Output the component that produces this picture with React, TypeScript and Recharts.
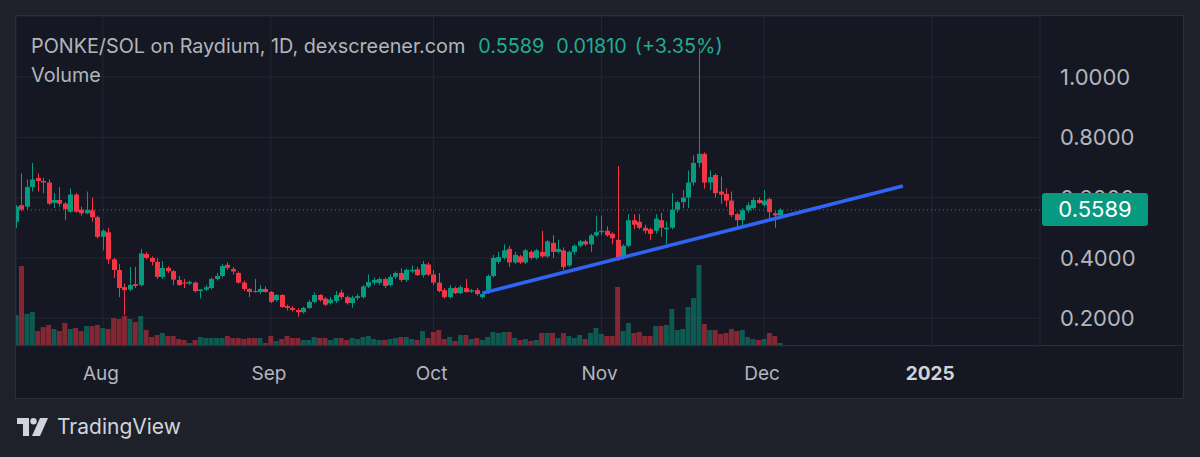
import React from "react";
import { Bar, CartesianGrid, Cell, ComposedChart, ReferenceLine, XAxis, YAxis } from "recharts";

// PONKE/SOL daily candles, 16 Jul 2024 (index 0) .. 5 Dec 2024
const opens = [
  0.52, 0.575, 0.57, 0.635, 0.665, 0.655, 0.65, 0.583, 0.592, 0.58, 0.553, 0.61, 0.56, 0.548, 0.558, 0.535, 0.47, 0.485, 0.395, 0.36,
  0.303, 0.295, 0.313, 0.31, 0.413, 0.4, 0.387, 0.337, 0.367, 0.356, 0.327, 0.318, 0.315, 0.318, 0.29, 0.295, 0.3, 0.33, 0.34, 0.377,
  0.363, 0.35, 0.318, 0.297, 0.29, 0.287, 0.297, 0.287, 0.26, 0.277, 0.24, 0.234, 0.227, 0.22, 0.234, 0.254, 0.277, 0.265, 0.25, 0.257,
  0.285, 0.27, 0.25, 0.267, 0.27, 0.305, 0.318, 0.317, 0.33, 0.31, 0.337, 0.35, 0.327, 0.355, 0.362, 0.343, 0.378, 0.345, 0.318, 0.293,
  0.27, 0.3, 0.283, 0.3, 0.288, 0.293, 0.27, 0.285, 0.34, 0.387, 0.4, 0.43, 0.385, 0.405, 0.385, 0.42, 0.4, 0.42, 0.405, 0.45,
  0.42, 0.425, 0.375, 0.42, 0.44, 0.455, 0.445, 0.475, 0.485, 0.49, 0.48, 0.46, 0.4, 0.44, 0.525, 0.52, 0.5, 0.495, 0.49, 0.525,
  0.495, 0.5, 0.56, 0.585, 0.6, 0.65, 0.715, 0.745, 0.65, 0.675, 0.62, 0.612, 0.59, 0.545, 0.525, 0.558, 0.565, 0.592, 0.575, 0.595,
  0.548, 0.541,
];
const highs = [
  0.575, 0.68, 0.66, 0.715, 0.68, 0.665, 0.66, 0.615, 0.635, 0.585, 0.63, 0.615, 0.57, 0.62, 0.6, 0.54, 0.495, 0.5, 0.4, 0.38,
  0.315, 0.37, 0.37, 0.43, 0.42, 0.405, 0.4, 0.39, 0.372, 0.36, 0.34, 0.33, 0.325, 0.322, 0.297, 0.31, 0.335, 0.35, 0.38, 0.385,
  0.37, 0.355, 0.325, 0.3, 0.33, 0.31, 0.305, 0.29, 0.28, 0.28, 0.245, 0.24, 0.233, 0.238, 0.26, 0.285, 0.28, 0.27, 0.27, 0.29,
  0.295, 0.275, 0.275, 0.28, 0.31, 0.345, 0.335, 0.335, 0.335, 0.345, 0.355, 0.365, 0.365, 0.375, 0.37, 0.39, 0.385, 0.36, 0.35, 0.3,
  0.31, 0.305, 0.31, 0.33, 0.297, 0.3, 0.285, 0.345, 0.41, 0.42, 0.445, 0.44, 0.42, 0.41, 0.43, 0.425, 0.43, 0.49, 0.46, 0.475,
  0.46, 0.435, 0.425, 0.445, 0.46, 0.46, 0.48, 0.54, 0.54, 0.505, 0.485, 0.705, 0.445, 0.545, 0.545, 0.545, 0.51, 0.5, 0.545, 0.55,
  0.52, 0.615, 0.59, 0.625, 0.69, 0.74, 1.095, 0.75, 0.69, 0.68, 0.67, 0.63, 0.62, 0.55, 0.565, 0.585, 0.6, 0.6, 0.625, 0.6,
  0.555, 0.565,
];
const lows = [
  0.5, 0.555, 0.56, 0.62, 0.62, 0.615, 0.575, 0.565, 0.57, 0.525, 0.55, 0.55, 0.54, 0.545, 0.52, 0.465, 0.425, 0.38, 0.333, 0.27,
  0.21, 0.29, 0.3, 0.305, 0.395, 0.375, 0.33, 0.33, 0.35, 0.31, 0.307, 0.3, 0.31, 0.285, 0.265, 0.29, 0.295, 0.325, 0.335, 0.36,
  0.345, 0.315, 0.29, 0.27, 0.285, 0.28, 0.285, 0.25, 0.255, 0.235, 0.225, 0.222, 0.205, 0.215, 0.23, 0.25, 0.255, 0.24, 0.245, 0.25,
  0.262, 0.245, 0.235, 0.26, 0.265, 0.3, 0.31, 0.31, 0.3, 0.305, 0.33, 0.32, 0.32, 0.35, 0.34, 0.335, 0.34, 0.31, 0.285, 0.265,
  0.265, 0.28, 0.28, 0.285, 0.284, 0.275, 0.265, 0.28, 0.335, 0.38, 0.395, 0.37, 0.38, 0.38, 0.38, 0.395, 0.395, 0.4, 0.4, 0.4,
  0.415, 0.36, 0.37, 0.41, 0.435, 0.44, 0.42, 0.47, 0.475, 0.47, 0.445, 0.39, 0.395, 0.435, 0.495, 0.495, 0.48, 0.46, 0.48, 0.47,
  0.445, 0.495, 0.55, 0.565, 0.565, 0.64, 0.7, 0.63, 0.625, 0.6, 0.58, 0.57, 0.535, 0.5, 0.505, 0.55, 0.56, 0.58, 0.57, 0.53,
  0.5, 0.53,
];
const closes = [
  0.57, 0.56, 0.635, 0.66, 0.655, 0.65, 0.58, 0.592, 0.58, 0.562, 0.61, 0.553, 0.548, 0.56, 0.535, 0.47, 0.49, 0.395, 0.36, 0.3,
  0.293, 0.31, 0.307, 0.415, 0.4, 0.387, 0.337, 0.367, 0.356, 0.328, 0.31, 0.315, 0.32, 0.29, 0.295, 0.303, 0.33, 0.34, 0.373, 0.367,
  0.355, 0.318, 0.297, 0.287, 0.287, 0.297, 0.287, 0.254, 0.277, 0.237, 0.234, 0.227, 0.22, 0.234, 0.254, 0.277, 0.26, 0.245, 0.262, 0.277,
  0.27, 0.25, 0.268, 0.273, 0.305, 0.32, 0.327, 0.33, 0.307, 0.337, 0.35, 0.327, 0.36, 0.36, 0.343, 0.38, 0.345, 0.318, 0.29, 0.27,
  0.3, 0.283, 0.303, 0.287, 0.293, 0.28, 0.28, 0.34, 0.4, 0.403, 0.425, 0.385, 0.41, 0.385, 0.425, 0.4, 0.425, 0.405, 0.455, 0.42,
  0.43, 0.37, 0.42, 0.44, 0.455, 0.445, 0.475, 0.485, 0.49, 0.475, 0.465, 0.4, 0.44, 0.525, 0.51, 0.5, 0.49, 0.48, 0.53, 0.5,
  0.5, 0.56, 0.585, 0.6, 0.65, 0.715, 0.745, 0.65, 0.668, 0.615, 0.61, 0.59, 0.542, 0.525, 0.558, 0.575, 0.592, 0.582, 0.59, 0.552,
  0.5408, 0.5589,
];
// volume, thousand SOL
const volumes = [
  31, 80, 32, 34, 15, 19, 21, 17, 15, 23, 17, 18, 15, 20, 20, 21, 18, 17, 28, 27, 30, 27, 24, 30, 16, 9, 11, 13, 10, 10,
  7, 6, 3, 6, 9, 8, 8, 8, 8, 10, 8, 8, 7, 8, 8, 8, 3, 10, 5, 7, 10, 8, 8, 6, 6, 9, 8, 8, 6, 8,
  8, 6, 8, 7, 9, 10, 7, 6, 6, 7, 8, 9, 9, 7, 6, 15, 8, 14, 16, 7, 9, 5, 11, 11, 7, 8, 6, 9, 14, 13,
  14, 14, 8, 6, 7, 5, 6, 13, 13, 13, 8, 13, 10, 8, 11, 7, 13, 18, 12, 10, 10, 59, 15, 23, 13, 14, 10, 10,
  20, 20, 21, 37, 16, 17, 39, 48, 81, 22, 16, 16, 12, 13, 17, 15, 16, 9, 7, 6, 7, 13, 10, 3,
];

const monthTicks = [16, 47, 77, 108, 138, 169];
const monthLabels = ["Aug", "Sep", "Oct", "Nov", "Dec", "2025"];
const priceTicks = [0.2, 0.4, 0.6, 0.8, 1.0];
const lastPrice = 0.5589;
const trendStart = { x: 86, y: 0.283 };
const trendEnd = { x: 163.6, y: 0.6385 };

const UP = "#089981";
const DOWN = "#f23645";
const TEXT = "#b2b5be";
const GRID = "#232734";
const PRICE_DOMAIN: [number, number] = [0.1078, 1.2023];

const data = opens.map((o, i) => ({
  i,
  o,
  h: highs[i],
  l: lows[i],
  c: closes[i],
  v: volumes[i],
  range: [lows[i], highs[i]],
}));

function Candle(props: any) {
  const { x, y, width, height, payload } = props;
  const { o, h, l, c } = payload;
  const top = Math.min(y, y + height);
  const bot = Math.max(y, y + height);
  const k = (bot - top) / (h - l || 1);
  const yo = top + (h - o) * k;
  const yc = top + (h - c) * k;
  const color = c >= o ? UP : DOWN;
  const cx = Math.round(x + width / 2) + 0.5;
  return (
    <g>
      <line x1={cx} x2={cx} y1={top} y2={bot} stroke={color} strokeWidth={1} />
      <rect x={cx - 2.5} y={Math.min(yo, yc)} width={5} height={Math.max(1, Math.abs(yo - yc))} fill={color} />
    </g>
  );
}

function MonthTick(props: any) {
  const { x, y, payload } = props;
  const idx = monthTicks.indexOf(payload.value);
  const isYear = idx === monthLabels.length - 1;
  return (
    <text
      x={x - 2}
      y={y}
      dy={26}
      textAnchor="middle"
      fill={isYear ? "#d1d4dc" : TEXT}
      fontSize={19}
      fontWeight={isYear ? 700 : 400}
      fontFamily="Inter"
    >
      {monthLabels[idx]}
    </text>
  );
}

function PriceTick(props: any) {
  const { x, y, payload } = props;
  return (
    <text x={x + 12} y={y} dy={8} textAnchor="start" fill={TEXT} fontSize={22} fontFamily="Inter">
      {payload.value.toFixed(4)}
    </text>
  );
}

function Logo() {
  return (
    <svg width={32} height={20} viewBox="0 0 32 20" style={{ position: "absolute", left: 17, top: 418 }}>
      <path d="M0 0 H12 V18 H6 V6 H0 Z" fill="#d1d4dc" />
      <circle cx={16.5} cy={3.2} r={3.2} fill="#d1d4dc" />
      <path d="M23 0 H31 L23 18 H15 Z" fill="#d1d4dc" />
    </svg>
  );
}

export default function App() {
  const plotTop = 16;
  const plotH = 330;
  const lastY = plotTop + ((PRICE_DOMAIN[1] - lastPrice) / (PRICE_DOMAIN[1] - PRICE_DOMAIN[0])) * plotH;

  return (
    <div
      style={{
        position: "absolute",
        left: 0,
        top: 0,
        width: 1200,
        height: 457,
        background: "#1e212a",
        overflow: "hidden",
        fontFamily: "Inter, sans-serif",
      }}
    >
      <div style={{ position: "absolute", left: 16, top: 16, width: 1167, height: 382, background: "#151822" }}>
        <ComposedChart width={1167} height={382} data={data} margin={{ top: 0, right: 0, bottom: 0, left: 0 }}>
          <CartesianGrid stroke={GRID} xAxisId="main" yAxisId="price" />
          <XAxis
            xAxisId="main"
            type="number"
            dataKey="i"
            domain={[-0.05, 188.9]}
            ticks={monthTicks}
            tick={<MonthTick />}
            axisLine={false}
            tickLine={false}
            height={52}
            allowDataOverflow
          />
          <XAxis xAxisId="vol" type="number" dataKey="i" domain={[-0.05, 188.9]} hide allowDataOverflow />
          <YAxis
            yAxisId="price"
            orientation="right"
            width={143}
            domain={PRICE_DOMAIN}
            ticks={priceTicks}
            tick={<PriceTick />}
            axisLine={false}
            tickLine={false}
            allowDataOverflow
          />
          <YAxis yAxisId="vol" domain={[0, 330]} hide />
          <Bar xAxisId="vol" yAxisId="vol" dataKey="v" barSize={5} isAnimationActive={false}>
            {data.map((d) => (
              <Cell key={d.i} fill={d.c >= d.o ? "rgba(8,153,129,0.5)" : "rgba(242,54,69,0.5)"} />
            ))}
          </Bar>
          <ReferenceLine
            xAxisId="main"
            yAxisId="price"
            y={lastPrice}
            stroke={UP}
            strokeDasharray="1 3"
            strokeWidth={1}
          />
          <Bar
            xAxisId="main"
            yAxisId="price"
            dataKey="range"
            barSize={5}
            shape={<Candle />}
            isAnimationActive={false}
          />
          <ReferenceLine
            xAxisId="main"
            yAxisId="price"
            segment={[trendStart, trendEnd]}
            stroke="#2f64f5"
            strokeWidth={3.5}
            ifOverflow="visible"
          />
        </ComposedChart>
      </div>

      {/* panel border and time-axis separator */}
      <div style={{ position: "absolute", left: 15, top: 15, width: 1167, height: 382, border: "1px solid #2a2e39" }} />
      <div style={{ position: "absolute", left: 16, top: 345, width: 1167, height: 1, background: "#2a2e39" }} />

      {/* last price label (covers most of the 0.6000 tick, as in TradingView) */}
      <div
        style={{
          position: "absolute",
          left: 1042,
          top: lastY - 16.5,
          width: 106,
          height: 33,
          background: UP,
          borderRadius: 3,
          color: "#ffffff",
          fontSize: 22,
          lineHeight: "33px",
          textAlign: "center",
        }}
      >
        {lastPrice.toFixed(4)}
      </div>

      {/* legend */}
      <div style={{ position: "absolute", left: 31, top: 34, fontSize: 19.8, color: TEXT, whiteSpace: "nowrap" }}>
        PONKE/SOL on Raydium, 1D, dexscreener.com
        <span style={{ color: "#22ab94", marginLeft: 13 }}>0.5589</span>
        <span style={{ color: "#22ab94", marginLeft: 12 }}>0.01810</span>
        <span style={{ color: "#22ab94", marginLeft: 8 }}>(+3.35%)</span>
      </div>
      <div style={{ position: "absolute", left: 31, top: 63, fontSize: 19.8, color: TEXT }}>Volume</div>

      <Logo />
      <div style={{ position: "absolute", left: 57, top: 414, fontSize: 21, color: "#d1d4dc" }}>TradingView</div>
    </div>
  );
}
